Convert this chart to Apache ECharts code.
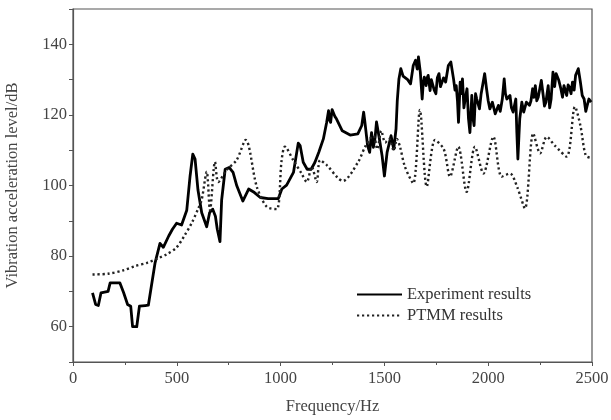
<!DOCTYPE html>
<html>
<head>
<meta charset="utf-8">
<script src="https://cdn.jsdelivr.net/npm/echarts@6/dist/echarts.min.js"></script>
<style>html,body{margin:0;padding:0;background:#fff}#c{width:611px;height:420px}</style>
</head>
<body>
<div id="c"></div>
<script>
const seriesNames = ['Experiment results', 'PTMM results'];
const xTicks = [0, 500, 1000, 1500, 2000, 2500];
const yTicks = [60, 80, 100, 120, 140];

const expFreq = [94,109,122,135,169,179,226,244,263,278,287,307,320,348,363,395,419,435,461,479,499,523,548,564,577,588,602,620,644,658,673,686,695,708,716,733,752,771,789,818,846,874,902,940,989,1006,1029,1062,1085,1094,1109,1128,1147,1165,1184,1206,1222,1231,1236,1241,1248,1256,1262,1269,1297,1335,1372,1391,1400,1405,1410,1419,1429,1438,1447,1455,1462,1476,1489,1500,1513,1532,1545,1556,1562,1570,1579,1590,1598,1612,1626,1639,1650,1658,1664,1669,1673,1682,1687,1692,1701,1706,1711,1720,1726,1733,1740,1748,1755,1763,1770,1776,1785,1795,1808,1820,1833,1840,1846,1852,1857,1865,1870,1876,1883,1889,1898,1905,1912,1921,1927,1932,1939,1945,1958,1966,1973,1983,1992,2000,2008,2020,2034,2049,2058,2068,2077,2083,2090,2105,2112,2120,2133,2138,2143,2148,2152,2162,2171,2184,2199,2206,2214,2220,2227,2234,2241,2256,2265,2271,2278,2289,2296,2303,2312,2320,2327,2340,2350,2358,2365,2378,2385,2391,2399,2406,2414,2421,2434,2444,2453,2462,2470,2477,2485,2496];
const expVal = [69.6,66.3,66.0,69.6,70.0,72.4,72.4,69.6,66.3,65.8,60.0,60.0,65.8,66.0,66.1,78.0,83.6,82.5,85.7,87.6,89.3,88.8,93.0,102.7,108.9,107.5,98.7,92.3,88.3,92.3,93.3,91.3,87.6,84.1,95.9,104.6,105.1,103.7,99.9,95.6,99.0,98.0,96.6,96.3,96.3,99.0,100.1,103.7,112.0,111.3,106.6,104.6,104.6,106.5,109.4,113.2,117.9,121.2,118.5,117.9,121.5,121.7,119.5,118.9,115.5,114.3,114.6,117.0,120.8,118.5,118.0,111.3,109.4,115.0,110.8,113.5,118.0,113.2,108.4,102.7,109.4,114.1,110.3,116.0,124.0,130.2,133.1,131.0,130.7,130.0,128.8,134.0,135.5,133.0,136.4,134.0,132.1,124.5,129.0,130.7,128.3,130.5,131.2,126.9,130.0,129.8,127.0,126.0,130.5,131.7,128.0,128.3,130.5,129.3,134.0,135.0,130.2,127.0,128.3,124.0,117.9,129.3,126.0,130.2,122.0,124.5,127.4,119.0,115.0,125.5,119.0,117.0,126.0,124.5,121.7,126.0,128.3,131.7,127.4,124.0,121.7,123.6,120.3,122.7,121.0,124.5,130.2,126.0,124.5,125.5,122.0,120.8,124.5,115.0,107.5,114.0,118.9,123.6,120.8,123.6,122.7,124.0,127.4,125.0,128.3,124.0,125.0,129.8,125.5,122.5,123.6,128.3,122.0,124.5,132.1,128.0,131.7,129.8,127.4,125.0,128.3,125.5,128.5,127.9,126.0,129.3,127.0,131.2,133.1,129.3,125.5,124.5,121.0,122.7,124.5,123.6];

const ptmmFreq = [94,169,244,301,357,414,451,498,536,573,602,620,644,660,684,700,740,788,832,885,933,981,1005,1021,1061,1101,1126,1150,1174,1190,1222,1278,1300,1372,1410,1447,1466,1485,1504,1523,1545,1560,1575,1599,1639,1671,1704,1744,1786,1816,1856,1896,1936,1977,2025,2065,2105,2140,2177,2217,2250,2282,2321,2378,2418,2444,2470,2496];
const ptmmVal = [74.8,75.0,76.0,77.2,78.1,79.5,80.5,82.4,85.7,89.5,93.3,96.0,103.9,93.0,106.7,101.0,104.4,107.2,112.9,99.7,94.0,93.3,107.2,111.0,107.2,103.4,101.0,105.3,101.0,107.2,105.8,102.0,101.3,106.5,111.3,114.1,110.3,115.5,112.2,113.2,109.9,113.2,111.0,105.3,100.6,121.4,99.7,112.9,110.3,102.5,111.0,98.2,111.0,103.4,113.8,102.5,103.4,99.5,93.5,114.8,109.1,113.8,111.3,108.2,122.3,117.0,108.5,107.8];

const zip = (a, b) => a.map((v, i) => [v, b[i]]);
const font = '"Liberation Serif", "DejaVu Serif", serif';
const axisCol = '#555';
const txtCol = '#444';

const chart = echarts.init(document.getElementById('c'), null, {renderer: 'canvas'});
chart.setOption({
  animation: false,
  backgroundColor: '#fff',
  grid: {left: 73, right: 19, top: 9, bottom: 58, show: true, borderColor: axisCol, borderWidth: 1.2,
    containLabel: false, outerBoundsMode: 'none'},
  legend: {
    orient: 'vertical', left: 351, top: 281, itemWidth: 45, itemHeight: 12, itemGap: 4,
    itemStyle: {opacity: 0},
    textStyle: {fontFamily: font, fontSize: 16.5, color: '#333'},
    data: seriesNames
  },
  xAxis: {
    type: 'value', min: 0, max: 2500, interval: 500,
    axisLine: {show: true, lineStyle: {color: axisCol, width: 1.2}},
    axisTick: {show: true, inside: false, length: 4, lineStyle: {color: axisCol}},
    minorTick: {show: true, splitNumber: 2, length: 3, lineStyle: {color: axisCol}},
    splitLine: {show: false},
    axisLabel: {fontFamily: font, fontSize: 16.5, color: txtCol, margin: 8,
      formatter: v => xTicks.includes(v) ? String(v) : ''},
    name: 'Frequency/Hz', nameLocation: 'middle', nameGap: 36,
    nameTextStyle: {fontFamily: font, fontSize: 16.5, color: txtCol}
  },
  yAxis: {
    type: 'value', min: 50, max: 150, interval: 10,
    axisLine: {show: true, lineStyle: {color: axisCol, width: 1.2}},
    axisTick: {show: true, inside: false, length: 4, lineStyle: {color: axisCol}},
    splitLine: {show: false},
    axisLabel: {fontFamily: font, fontSize: 16.5, color: txtCol, margin: 6,
      formatter: v => yTicks.includes(v) ? String(v) : ''},
    name: 'Vibration acceleration level/dB', nameLocation: 'middle', nameGap: 52,
    nameTextStyle: {fontFamily: font, fontSize: 16.5, color: txtCol}
  },
  series: [
    {
      name: seriesNames[0], type: 'line', data: zip(expFreq, expVal),
      symbol: 'none', showSymbol: false, smooth: false,
      lineStyle: {color: '#000', width: 2.8, join: 'round'},
      itemStyle: {color: '#000'}
    },
    {
      name: seriesNames[1], type: 'line', data: zip(ptmmFreq, ptmmVal),
      symbol: 'none', showSymbol: false, smooth: 0.3,
      lineStyle: {color: '#222', width: 2.4, type: [2.2, 2.8]},
      itemStyle: {color: '#222'}
    }
  ]
});
</script>
</body>
</html>
